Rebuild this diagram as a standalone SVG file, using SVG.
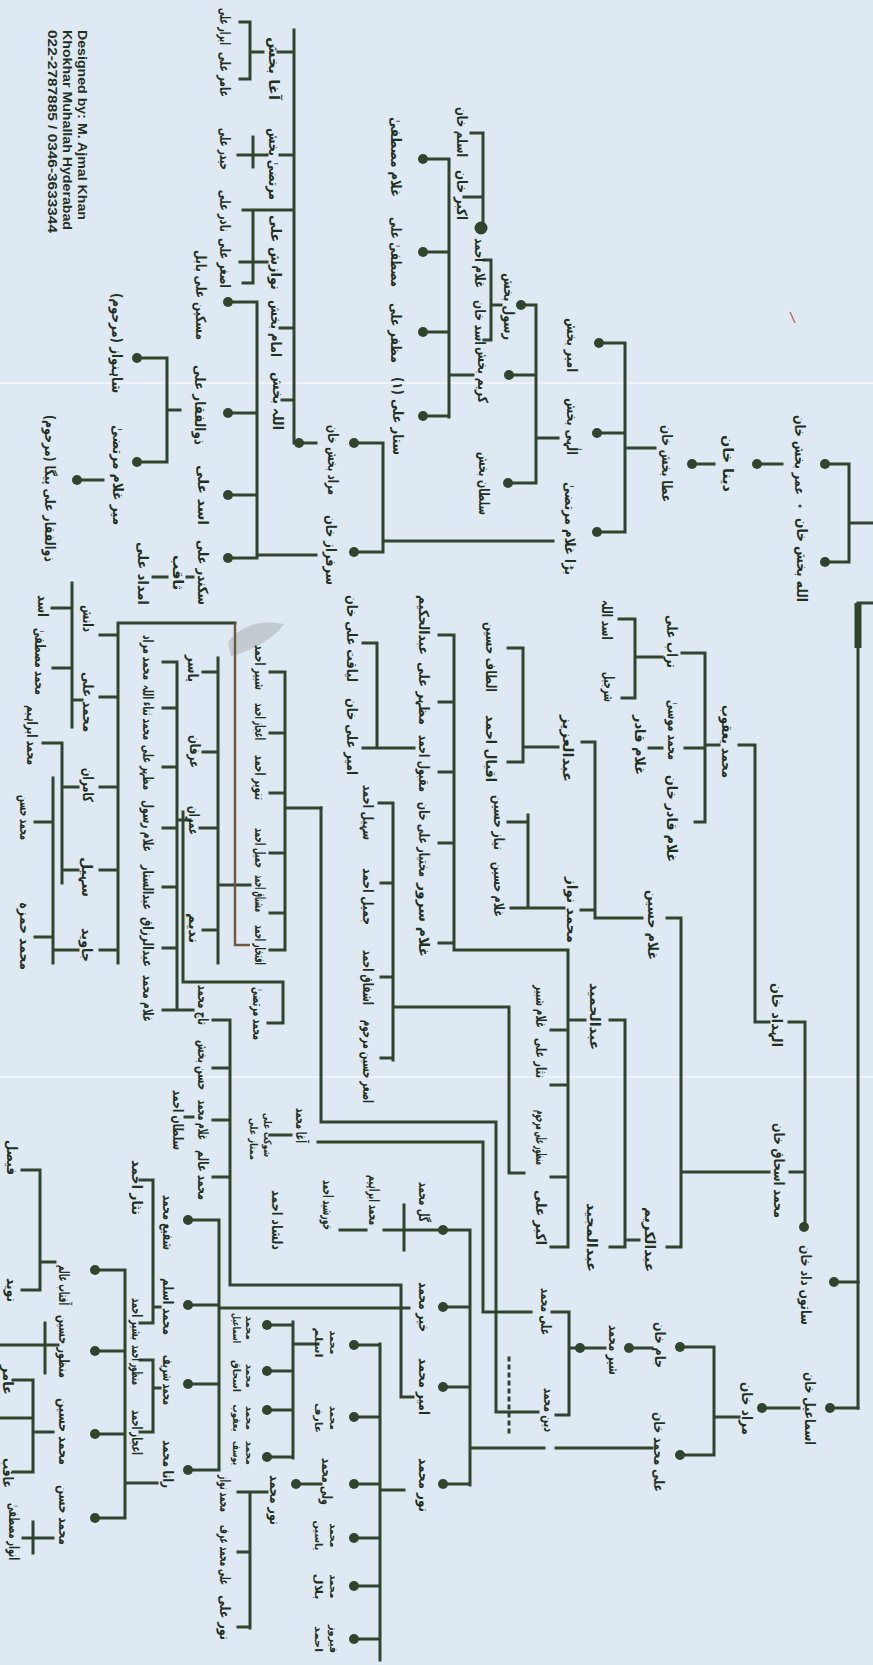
<svg xmlns="http://www.w3.org/2000/svg" width="873" height="1665" viewBox="0 0 873 1665">
<style>
.ln{stroke:#31452c;stroke-width:3;fill:none;stroke-linecap:square}
.br{stroke:#6e5a45;stroke-width:2.5;fill:none}
.dt{fill:#31452c}
.t{font-family:"DejaVu Sans","Noto Sans",sans-serif;font-size:14px;font-weight:bold;fill:#22301f;text-anchor:middle;dominant-baseline:central}
.s{font-size:10.5px}
.f{font-family:"Liberation Sans",Arial,sans-serif;font-size:12.5px;font-weight:bold;fill:#22301f;text-anchor:middle;dominant-baseline:central}
</style>
<rect width="873" height="1665" fill="#dfe9f4"/>
<rect y="382" width="873" height="2" fill="#f4f8fc" opacity="0.7"/>
<rect y="1076" width="873" height="2" fill="#f4f8fc" opacity="0.7"/>
<path d="M228,642 C240,626 262,619 284,624 C276,636 256,650 231,656 Z" fill="#b7bec2" opacity="0.7"/>
<path d="M790,312 L795,323" stroke="#d05050" stroke-width="1.2"/>

<g id="connectors">
<path class="ln" d="M858,603 V1408 M858,603 H873 M849,464 V562 M830,464 H849 M830,562 H849 M849,523 H873 M762,464 H782 M697,464 H714 M625,448 H655 M625,343 V532 M602,343 H625 M602,433 H625 M602,532 H625"/>
<path stroke="#31452c" stroke-width="7" d="M858,603 V648"/>
<path class="ln" d="M536,305 V483 M536,438 H558 M526,305 H536 M514,375 H536 M513,483 H536 M491,260 V340 M484,260 H491 M484,340 H491 M491,305 H501 M483,133 V226 M471,133 H483 M464,197 H483 M449,159 V417 M428,159 H449 M428,252 H449 M428,332 H449 M428,416 H449 M449,375 H473 M383,443 V552 M359,443 H383 M359,552 H383 M383,541 H553"/>
<path class="ln" d="M294,30 V443 M304,443 H316 M257,302 V555 H316 M233,302 H257 M233,413 H257 M233,495 H257 M233,558 H257 M278,52 H294 M250,52 H263 M250,22 V79 M240,22 H250 M240,79 H250 M280,155 H294 M253,137 V167 M238,155 H267 M243,210 H294 M253,210 V283 M240,262 H267 M243,283 H253 M280,328 H294 M282,400 H294 M167,358 V462 M143,358 H167 M143,462 H167 M167,410 H180 M82,480 H103 M153,577 H167 M187,577 H193"/>
<path class="ln" d="M72,583 V727 M52,608 H72 M53,668 H72 M72,700 H82 M118,623 V963 M118,623 H235 M100,635 H118 M100,697 H118 M100,787 H118 M100,870 H118 M100,950 H118 M62,743 V883 M43,743 H62 M62,787 H78 M62,870 H78 M53,778 V963 M35,822 H53 M35,937 H53 M53,950 H78 M218,658 V963 M203,672 H218 M203,752 H218 M200,828 H218 M203,930 H218 M218,885 H250"/>
<path class="br" d="M235,623 V945 H250"/>
<path class="ln" d="M177,662 V1010 H193 M163,662 H177 M163,708 H177 M163,767 H177 M163,828 H177 M163,887 H177 M163,948 H177 M163,1010 H177 M285,672 V950 M270,672 H285 M270,733 H285 M270,793 H285 M270,853 H285 M270,913 H285 M270,950 H285 M285,808 H321 M183,812 V982 H283 V1023 M178,820 H190 M268,1023 H283"/>
<path class="ln" d="M230,1020 V1285 H401 V1397 H413 M213,1020 H230 M213,1068 H230 M213,1120 H230 M213,1177 H230 M185,1117 H193 M193,1220 H219 M219,1220 V1470 M193,1305 H219 M193,1384 H219 M193,1470 H219 M219,1308 H409 M153,1180 V1323 M140,1180 H153 M140,1323 H153 M153,1307 H160 M153,1360 V1432 M140,1360 H153 M140,1432 H153 M153,1388 H160 M125,1270 V1518 M100,1270 H125 M100,1351 H125 M100,1434 H125 M100,1518 H125 M125,1483 H157"/>
<path class="ln" d="M40,1170 V1290 M22,1170 H40 M22,1290 H40 M40,1262 H55 M45,1323 V1373 M0,1345 H58 M33,1380 V1472 M13,1380 H33 M0,1418 H33 M13,1472 H33 M33,1432 H53 M33,1522 V1553 M23,1538 H53"/>
<path class="ln" d="M272,1325 H293 M272,1371 H293 M272,1410 H293 M272,1457 H293 M293,1322 V1458 M293,1344 H318 M301,1484 H321 M250,1492 V1628 M238,1492 H267 M238,1552 H250 M238,1627 H250 M380,1344 V1660 M359,1345 H380 M359,1417 H380 M359,1484 H380 M359,1538 H380 M359,1586 H380 M359,1639 H380 M380,1490 H404"/>
<path class="ln" d="M470,1230 V1485 M448,1230 H470 M448,1307 H470 M448,1387 H470 M448,1484 H470 M470,1448 H544 M556,1448 H652 M483,1142 V1312 H531 M318,1142 H483 M321,808 V1122 H496 V1412 H538 M569,1312 V1415 M552,1312 H569 M556,1415 H569 M569,1348 H576 M584,1348 H605 M635,1348 H652 M685,1347 H714 M714,1347 V1455 M685,1455 H714 M714,1417 H739 M767,1408 H799 M835,1408 H858 M839,1282 H858 M384,1230 H438 M404,1205 V1250 M340,1230 H366 M270,1135 H291"/>
<path class="ln" stroke-dasharray="2 6" d="M509,1358 V1438"/>
<path class="ln" d="M805,1022 V1224 M790,1172 H805 M789,1022 H805 M755,1022 H769 M755,745 V1022 M739,745 H755 M681,918 V1247 M667,918 H681 M667,1247 H681 M681,1172 H769 M625,1020 V1247 M610,1020 H625 M610,1247 H625 M625,1240 H639 M705,653 V822 M682,653 H705 M695,822 H705 M705,745 H719 M685,748 H705 M649,748 H662 M635,619 V698 M619,619 H635 M622,698 H635 M635,657 H662"/>
<path class="ln" d="M595,742 V918 M582,742 H595 M581,910 H595 M595,918 H642 M523,648 V762 M508,648 H523 M508,762 H523 M523,747 H558 M528,815 V908 M508,822 H528 M511,908 H564 M454,635 V950 H568 M439,635 H454 M439,702 H454 M439,772 H454 M439,843 H454 M439,943 H454 M568,950 V1247 M568,1020 H585 M551,1030 H568 M551,1085 H568 M551,1177 H568 M551,1247 H568 M377,643 V748 M363,643 H377 M363,748 H414 M393,803 V1060 M379,803 H393 M381,883 H393 M381,977 H393 M381,1058 H393 M393,1007 H509 V1173 H524"/>
</g>

<g id="footer">
<text class="f" transform="translate(82,125) rotate(90)" textLength="190" lengthAdjust="spacingAndGlyphs">Designed by: M. Ajmal Khan</text>
<text class="f" transform="translate(67,130) rotate(90)" textLength="200" lengthAdjust="spacingAndGlyphs">Khokhar Muhallah Hyderabad</text>
<text class="f" transform="translate(52,131.5) rotate(90)" textLength="203" lengthAdjust="spacingAndGlyphs">022-2787885 / 0346-3633344</text>
</g>

<g id="n-umar"><circle class="dt" cx="825" cy="464" r="5"/><text class="t" transform="translate(800,455) rotate(90)" textLength="80" lengthAdjust="spacingAndGlyphs">عمر بخش خان</text></g>
<g id="n-allah"><circle class="dt" cx="825" cy="562" r="5"/><circle class="dt" cx="800" cy="506" r="1.6"/><text class="t" transform="translate(802,560) rotate(90)" textLength="84" lengthAdjust="spacingAndGlyphs">الله بخش خان</text></g>
<g id="n-dina"><circle class="dt" cx="757" cy="464" r="5"/><text class="t" transform="translate(728,463.5) rotate(90)" textLength="57" lengthAdjust="spacingAndGlyphs">دینا خان</text></g>
<g id="n-ata"><circle class="dt" cx="692" cy="464" r="5"/><text class="t" transform="translate(667,463.5) rotate(90)" textLength="77" lengthAdjust="spacingAndGlyphs">عطا بخش خان</text></g>
<g id="n-amirb"><circle class="dt" cx="599" cy="343" r="5"/><text class="t" transform="translate(572,345) rotate(90)" textLength="54" lengthAdjust="spacingAndGlyphs">امیر بخش</text></g>
<g id="n-ilahi"><circle class="dt" cx="597" cy="433" r="5"/><text class="t" transform="translate(572,426.5) rotate(90)" textLength="57" lengthAdjust="spacingAndGlyphs">الٰہی بخش</text></g>
<g id="n-murtaza"><circle class="dt" cx="597" cy="532" r="5"/><text class="t" transform="translate(570,528.5) rotate(90)" textLength="93" lengthAdjust="spacingAndGlyphs">بڑا غلام مرتضیٰ</text></g>
<g id="n-rasul"><circle class="dt" cx="521" cy="305" r="5"/><text class="t" transform="translate(509,306.5) rotate(90)" textLength="67" lengthAdjust="spacingAndGlyphs">رسول بخش</text></g>
<g id="n-karim"><circle class="dt" cx="509" cy="375" r="5"/><text class="t" transform="translate(483,375) rotate(90)" textLength="56" lengthAdjust="spacingAndGlyphs">کریم بخش</text></g>
<g id="n-sultanb"><circle class="dt" cx="508" cy="483" r="5"/><text class="t" transform="translate(484,483.5) rotate(90)" textLength="63" lengthAdjust="spacingAndGlyphs">سلطان بخش</text></g>
<g id="n-ghulamahmad"><circle class="dt" cx="481" cy="228" r="6.5"/><text class="t" transform="translate(480,263) rotate(90)" textLength="50" lengthAdjust="spacingAndGlyphs">غلام احمد</text></g>
<g id="n-asadk"><text class="t" transform="translate(480,322.5) rotate(90)" textLength="45" lengthAdjust="spacingAndGlyphs">اسد خان</text></g>
<g id="n-aslamk"><text class="t" transform="translate(462,132) rotate(90)" textLength="50" lengthAdjust="spacingAndGlyphs">اسلم خان</text></g>
<g id="n-akbark"><text class="t" transform="translate(462,195) rotate(90)" textLength="50" lengthAdjust="spacingAndGlyphs">اکبر خان</text></g>
<g id="n-mustafag"><circle class="dt" cx="423" cy="159" r="5"/><text class="t" transform="translate(396,157) rotate(90)" textLength="80" lengthAdjust="spacingAndGlyphs">غلام مصطفیٰ</text></g>
<g id="n-mustafaa"><circle class="dt" cx="423" cy="252" r="5"/><text class="t" transform="translate(396,252) rotate(90)" textLength="70" lengthAdjust="spacingAndGlyphs">مصطفیٰ علی</text></g>
<g id="n-muzaffar"><circle class="dt" cx="423" cy="332" r="5"/><text class="t" transform="translate(396,333) rotate(90)" textLength="60" lengthAdjust="spacingAndGlyphs">مظفر علی</text></g>
<g id="n-sattar"><circle class="dt" cx="423" cy="416" r="5"/><text class="t" transform="translate(398,416) rotate(90)" textLength="78" lengthAdjust="spacingAndGlyphs">ستار علی (۱)</text></g>
<g id="n-muradb"><circle class="dt" cx="354" cy="443" r="5"/><circle class="dt" cx="299" cy="443" r="5"/><text class="t" transform="translate(333,460) rotate(90)" textLength="70" lengthAdjust="spacingAndGlyphs">مراد بخش خان</text></g>
<g id="n-sarfraz"><circle class="dt" cx="354" cy="552" r="5"/><text class="t" transform="translate(331,550) rotate(90)" textLength="70" lengthAdjust="spacingAndGlyphs">سرفراز خان</text></g>
<g id="n-aghab"><text class="t" transform="translate(274,68.5) rotate(90)" textLength="63" lengthAdjust="spacingAndGlyphs">آغا بخش</text></g>
<g id="n-murtazab"><text class="t" transform="translate(274,164) rotate(90)" textLength="72" lengthAdjust="spacingAndGlyphs">مرتضیٰ بخش</text></g>
<g id="n-nawazish"><text class="t" transform="translate(276,252.5) rotate(90)" textLength="75" lengthAdjust="spacingAndGlyphs">نوازش علی</text></g>
<g id="n-imam"><text class="t" transform="translate(276,328.5) rotate(90)" textLength="57" lengthAdjust="spacingAndGlyphs">امام بخش</text></g>
<g id="n-allahb2"><text class="t" transform="translate(278,401) rotate(90)" textLength="58" lengthAdjust="spacingAndGlyphs">اللہ بخش</text></g>
<g id="n-abrar"><text class="t" transform="translate(225,26.5) rotate(90)" textLength="37" lengthAdjust="spacingAndGlyphs">ابرار علی</text></g>
<g id="n-amirali"><text class="t" transform="translate(225,74.5) rotate(90)" textLength="45" lengthAdjust="spacingAndGlyphs">عامر علی</text></g>
<g id="n-haider"><text class="t" transform="translate(225,149) rotate(90)" textLength="42" lengthAdjust="spacingAndGlyphs">حیدر علی</text></g>
<g id="n-nadir"><text class="t" transform="translate(225,211) rotate(90)" textLength="42" lengthAdjust="spacingAndGlyphs">نادر علی</text></g>
<g id="n-asghara"><text class="t" transform="translate(225,263) rotate(90)" textLength="50" lengthAdjust="spacingAndGlyphs">اصغر علی</text></g>
<g id="n-miskeen"><circle class="dt" cx="228" cy="302" r="5"/><text class="t" transform="translate(201,295) rotate(90)" textLength="90" lengthAdjust="spacingAndGlyphs">مسکین علی بابل</text></g>
<g id="n-zulfiqar1"><circle class="dt" cx="228" cy="413" r="5"/><text class="t" transform="translate(200,405) rotate(90)" textLength="80" lengthAdjust="spacingAndGlyphs">ذوالفقار علی</text></g>
<g id="n-asadali"><circle class="dt" cx="228" cy="495" r="5"/><text class="t" transform="translate(203,495) rotate(90)" textLength="60" lengthAdjust="spacingAndGlyphs">اسد علی</text></g>
<g id="n-sikandar"><circle class="dt" cx="228" cy="558" r="5"/><text class="t" transform="translate(203,572.5) rotate(90)" textLength="65" lengthAdjust="spacingAndGlyphs">سکندر علی</text></g>
<g id="n-saqib"><text class="t" transform="translate(178,572.5) rotate(90)" textLength="35" lengthAdjust="spacingAndGlyphs">ثاقب</text></g>
<g id="n-imdad"><text class="t" transform="translate(143,573.5) rotate(90)" textLength="63" lengthAdjust="spacingAndGlyphs">امداد علی</text></g>
<g id="n-shahnawaz"><circle class="dt" cx="137" cy="358" r="5"/><text class="t" transform="translate(117,343) rotate(90)" textLength="100" lengthAdjust="spacingAndGlyphs">شاہنواز (مرحوم)</text></g>
<g id="n-mirgm"><circle class="dt" cx="137" cy="462" r="5"/><text class="t" transform="translate(118,475) rotate(90)" textLength="100" lengthAdjust="spacingAndGlyphs">میر غلام مرتضیٰ</text></g>
<g id="n-zulfiqar2"><circle class="dt" cx="77" cy="480" r="5"/><text class="t" transform="translate(50,488.5) rotate(90)" textLength="147" lengthAdjust="spacingAndGlyphs">ذوالفقار علی پیگا (مرحوم)</text></g>

<g id="n-danish"><text class="t" transform="translate(88,618.5) rotate(90)" textLength="27" lengthAdjust="spacingAndGlyphs">دانش</text></g>
<g id="n-mali"><text class="t" transform="translate(88,702) rotate(90)" textLength="60" lengthAdjust="spacingAndGlyphs">محمد علی</text></g>
<g id="n-kamran"><text class="t" transform="translate(88,785) rotate(90)" textLength="34" lengthAdjust="spacingAndGlyphs">کامران</text></g>
<g id="n-sohail"><text class="t" transform="translate(87,877) rotate(90)" textLength="40" lengthAdjust="spacingAndGlyphs">سہیل</text></g>
<g id="n-javed"><text class="t" transform="translate(87,945) rotate(90)" textLength="34" lengthAdjust="spacingAndGlyphs">جاوید</text></g>
<g id="n-asad2"><text class="t" transform="translate(43,606) rotate(90)" textLength="22" lengthAdjust="spacingAndGlyphs">اسد</text></g>
<g id="n-mmustafa"><text class="t" transform="translate(40,661.5) rotate(90)" textLength="67" lengthAdjust="spacingAndGlyphs">محمد مصطفیٰ</text></g>
<g id="n-mibrahim"><text class="t" transform="translate(32,735) rotate(90)" textLength="60" lengthAdjust="spacingAndGlyphs">محمد ابراہیم</text></g>
<g id="n-mhasan"><text class="t" transform="translate(25,817.5) rotate(90)" textLength="45" lengthAdjust="spacingAndGlyphs">محمد حسن</text></g>
<g id="n-mhamza"><text class="t" transform="translate(25,936) rotate(90)" textLength="68" lengthAdjust="spacingAndGlyphs">محمد حمزہ</text></g>
<g id="n-yasir"><text class="t" transform="translate(193,668.5) rotate(90)" textLength="27" lengthAdjust="spacingAndGlyphs">یاسر</text></g>
<g id="n-irfan"><text class="t" transform="translate(195,751.5) rotate(90)" textLength="33" lengthAdjust="spacingAndGlyphs">عرفان</text></g>
<g id="n-imran"><text class="t" transform="translate(194,820.5) rotate(90)" textLength="29" lengthAdjust="spacingAndGlyphs">عمران</text></g>
<g id="n-nadeem"><text class="t" transform="translate(194,928) rotate(90)" textLength="30" lengthAdjust="spacingAndGlyphs">ندیم</text></g>
<g id="n-mmurad"><text class="t" transform="translate(148,657.5) rotate(90)" textLength="45" lengthAdjust="spacingAndGlyphs">محمد مراد</text></g>
<g id="n-msana"><text class="t" transform="translate(148,712.5) rotate(90)" textLength="55" lengthAdjust="spacingAndGlyphs">محمد ثناء اللہ</text></g>
<g id="n-mazhar"><text class="t" transform="translate(148,767.5) rotate(90)" textLength="45" lengthAdjust="spacingAndGlyphs">مظہر علی</text></g>
<g id="n-grasul"><text class="t" transform="translate(148,826) rotate(90)" textLength="52" lengthAdjust="spacingAndGlyphs">غلام رسول</text></g>
<g id="n-asattar"><text class="t" transform="translate(148,887.5) rotate(90)" textLength="45" lengthAdjust="spacingAndGlyphs">عبدالستار</text></g>
<g id="n-arazzaq"><text class="t" transform="translate(148,942) rotate(90)" textLength="50" lengthAdjust="spacingAndGlyphs">عبدالرزاق</text></g>
<g id="n-gmuhammad"><text class="t" transform="translate(148,998.5) rotate(90)" textLength="47" lengthAdjust="spacingAndGlyphs">غلام محمد</text></g>
<g id="n-shabbir"><text class="t" transform="translate(260,667.5) rotate(90)" textLength="45" lengthAdjust="spacingAndGlyphs">شبیر احمد</text></g>
<g id="n-ijaz"><text class="t" transform="translate(260,721.5) rotate(90)" textLength="37" lengthAdjust="spacingAndGlyphs">اعجاز احمد</text></g>
<g id="n-tanveer"><text class="t" transform="translate(260,777.5) rotate(90)" textLength="45" lengthAdjust="spacingAndGlyphs">تنویر احمد</text></g>
<g id="n-jamil"><text class="t" transform="translate(260,848) rotate(90)" textLength="40" lengthAdjust="spacingAndGlyphs">جمیل احمد</text></g>
<g id="n-mushtaq"><text class="t" transform="translate(260,893.5) rotate(90)" textLength="37" lengthAdjust="spacingAndGlyphs">مشتاق احمد</text></g>
<g id="n-iftikhar"><text class="t" transform="translate(260,945) rotate(90)" textLength="40" lengthAdjust="spacingAndGlyphs">افتخار احمد</text></g>
<g id="n-mmurtaza"><text class="t" transform="translate(258,1013.5) rotate(90)" textLength="53" lengthAdjust="spacingAndGlyphs">محمد مرتضیٰ</text></g>
<g id="n-taj"><text class="t" transform="translate(203,1005) rotate(90)" textLength="40" lengthAdjust="spacingAndGlyphs">تاج محمد</text></g>
<g id="n-hasanb"><text class="t" transform="translate(203,1065) rotate(90)" textLength="50" lengthAdjust="spacingAndGlyphs">حسن بخش</text></g>
<g id="n-gmuh2"><text class="t" transform="translate(203,1120) rotate(90)" textLength="40" lengthAdjust="spacingAndGlyphs">غلام محمد</text></g>
<g id="n-malam"><text class="t" transform="translate(203,1175) rotate(90)" textLength="50" lengthAdjust="spacingAndGlyphs">محمد عالم</text></g>
<g id="n-sultanahmad"><text class="t" transform="translate(178,1120) rotate(90)" textLength="60" lengthAdjust="spacingAndGlyphs">سلطان احمد</text></g>
<g id="n-shaukat"><text class="t s" transform="translate(268,1135) rotate(90)" textLength="44" lengthAdjust="spacingAndGlyphs">شوکت علی</text></g>
<g id="n-mumtaz"><text class="t s" transform="translate(254,1139) rotate(90)" textLength="42" lengthAdjust="spacingAndGlyphs">ممتاز علی</text></g>

<g id="n-shafi"><circle class="dt" cx="188" cy="1220" r="5"/><text class="t" transform="translate(168,1222.5) rotate(90)" textLength="55" lengthAdjust="spacingAndGlyphs">شفیع محمد</text></g>
<g id="n-maslam"><circle class="dt" cx="188" cy="1305" r="5"/><text class="t" transform="translate(168,1306.5) rotate(90)" textLength="57" lengthAdjust="spacingAndGlyphs">محمد اسلم</text></g>
<g id="n-msharif"><circle class="dt" cx="188" cy="1384" r="5"/><text class="t" transform="translate(168,1380) rotate(90)" textLength="50" lengthAdjust="spacingAndGlyphs">محمد شریف</text></g>
<g id="n-rana"><circle class="dt" cx="188" cy="1470" r="5"/><text class="t" transform="translate(168,1464) rotate(90)" textLength="48" lengthAdjust="spacingAndGlyphs">رانا محمد</text></g>
<g id="n-aftab"><circle class="dt" cx="95" cy="1270" r="5"/><text class="t" transform="translate(64,1285) rotate(90)" textLength="40" lengthAdjust="spacingAndGlyphs">آفتاب عالم</text></g>
<g id="n-manzoorh"><circle class="dt" cx="95" cy="1351" r="5"/><text class="t" transform="translate(64,1346.5) rotate(90)" textLength="63" lengthAdjust="spacingAndGlyphs">منظور حسین</text></g>
<g id="n-mhusain"><circle class="dt" cx="95" cy="1434" r="5"/><text class="t" transform="translate(64,1431.5) rotate(90)" textLength="67" lengthAdjust="spacingAndGlyphs">محمد حسین</text></g>
<g id="n-mhasan2"><circle class="dt" cx="95" cy="1518" r="5"/><text class="t" transform="translate(64,1515) rotate(90)" textLength="60" lengthAdjust="spacingAndGlyphs">محمد حسن</text></g>
<g id="n-faisal"><text class="t" transform="translate(12,1157.5) rotate(90)" textLength="35" lengthAdjust="spacingAndGlyphs">فیصل</text></g>
<g id="n-naveed"><text class="t" transform="translate(12,1290) rotate(90)" textLength="24" lengthAdjust="spacingAndGlyphs">نوید</text></g>
<g id="n-amir2"><text class="t" transform="translate(8,1380) rotate(90)" textLength="30" lengthAdjust="spacingAndGlyphs">عامر</text></g>
<g id="n-aqib"><text class="t" transform="translate(8,1473) rotate(90)" textLength="30" lengthAdjust="spacingAndGlyphs">عاقب</text></g>
<g id="n-anwar"><text class="t" transform="translate(14,1531.5) rotate(90)" textLength="57" lengthAdjust="spacingAndGlyphs">انوار مصطفیٰ</text></g>
<g id="n-nisara"><text class="t" transform="translate(137,1187.5) rotate(90)" textLength="55" lengthAdjust="spacingAndGlyphs">نثار احمد</text></g>
<g id="n-bashir"><text class="t" transform="translate(137,1319) rotate(90)" textLength="42" lengthAdjust="spacingAndGlyphs">بشیر احمد</text></g>
<g id="n-manzoora"><text class="t" transform="translate(137,1365) rotate(90)" textLength="40" lengthAdjust="spacingAndGlyphs">منظور احمد</text></g>
<g id="n-ijaza"><text class="t" transform="translate(137,1432.5) rotate(90)" textLength="45" lengthAdjust="spacingAndGlyphs">اعجاز احمد</text></g>
<g id="n-ismail2"><circle class="dt" cx="267" cy="1325" r="5"/><text class="t s" transform="translate(250,1328) rotate(90)" textLength="24" lengthAdjust="spacingAndGlyphs">محمد</text><text class="t s" transform="translate(237,1328) rotate(90)" textLength="30" lengthAdjust="spacingAndGlyphs">اسماعیل</text></g>
<g id="n-ishaq2"><circle class="dt" cx="267" cy="1371" r="5"/><text class="t s" transform="translate(250,1376) rotate(90)" textLength="24" lengthAdjust="spacingAndGlyphs">محمد</text><text class="t s" transform="translate(237,1376) rotate(90)" textLength="32" lengthAdjust="spacingAndGlyphs">اسحاق</text></g>
<g id="n-yaqub2"><circle class="dt" cx="267" cy="1410" r="5"/><text class="t s" transform="translate(250,1418) rotate(90)" textLength="24" lengthAdjust="spacingAndGlyphs">محمد</text><text class="t s" transform="translate(237,1418) rotate(90)" textLength="27" lengthAdjust="spacingAndGlyphs">یعقوب</text></g>
<g id="n-yusuf2"><circle class="dt" cx="267" cy="1457" r="5"/><text class="t s" transform="translate(250,1453) rotate(90)" textLength="24" lengthAdjust="spacingAndGlyphs">محمد</text><text class="t s" transform="translate(237,1453) rotate(90)" textLength="24" lengthAdjust="spacingAndGlyphs">یوسف</text></g>
<g id="n-noorm2"><circle class="dt" cx="296" cy="1484" r="5"/><text class="t" transform="translate(275,1500) rotate(90)" textLength="50" lengthAdjust="spacingAndGlyphs">نور محمد</text></g>
<g id="n-mnawaz2"><text class="t" transform="translate(225,1493.5) rotate(90)" textLength="37" lengthAdjust="spacingAndGlyphs">محمد نواز</text></g>
<g id="n-alimurf"><text class="t" transform="translate(225,1555) rotate(90)" textLength="60" lengthAdjust="spacingAndGlyphs">علی محمد عرف</text></g>
<g id="n-noorali"><text class="t" transform="translate(225,1617.5) rotate(90)" textLength="45" lengthAdjust="spacingAndGlyphs">نور علی</text></g>
<g id="n-aslam3"><circle class="dt" cx="354" cy="1345" r="5"/><text class="t s" transform="translate(334,1342.5) rotate(90)" textLength="24" lengthAdjust="spacingAndGlyphs">محمد</text><text class="t s" transform="translate(319,1342.5) rotate(90)" textLength="30" lengthAdjust="spacingAndGlyphs">اسلم</text></g>
<g id="n-arif"><circle class="dt" cx="354" cy="1417" r="5"/><text class="t s" transform="translate(334,1418) rotate(90)" textLength="24" lengthAdjust="spacingAndGlyphs">محمد</text><text class="t s" transform="translate(319,1418) rotate(90)" textLength="30" lengthAdjust="spacingAndGlyphs">عارف</text></g>
<g id="n-walim"><circle class="dt" cx="354" cy="1484" r="5"/><text class="t" transform="translate(327,1481.5) rotate(90)" textLength="47" lengthAdjust="spacingAndGlyphs">ولی محمد</text></g>
<g id="n-yasin"><circle class="dt" cx="354" cy="1538" r="5"/><text class="t s" transform="translate(334,1535.5) rotate(90)" textLength="24" lengthAdjust="spacingAndGlyphs">محمد</text><text class="t s" transform="translate(319,1535.5) rotate(90)" textLength="30" lengthAdjust="spacingAndGlyphs">یاسین</text></g>
<g id="n-bilal"><circle class="dt" cx="354" cy="1586" r="5"/><text class="t s" transform="translate(334,1586.5) rotate(90)" textLength="24" lengthAdjust="spacingAndGlyphs">محمد</text><text class="t s" transform="translate(319,1586.5) rotate(90)" textLength="26" lengthAdjust="spacingAndGlyphs">بلال</text></g>
<g id="n-feroz"><circle class="dt" cx="354" cy="1639" r="5"/><text class="t s" transform="translate(334,1639) rotate(90)" textLength="28" lengthAdjust="spacingAndGlyphs">فیروز</text><text class="t s" transform="translate(319,1639) rotate(90)" textLength="26" lengthAdjust="spacingAndGlyphs">احمد</text></g>
<g id="n-gul"><circle class="dt" cx="443" cy="1230" r="5"/><text class="t" transform="translate(424,1202) rotate(90)" textLength="40" lengthAdjust="spacingAndGlyphs">گل محمد</text></g>
<g id="n-khair"><circle class="dt" cx="443" cy="1307" r="5"/><text class="t" transform="translate(424,1307) rotate(90)" textLength="50" lengthAdjust="spacingAndGlyphs">خیر محمد</text></g>
<g id="n-amirm"><circle class="dt" cx="443" cy="1387" r="5"/><text class="t" transform="translate(424,1386.5) rotate(90)" textLength="57" lengthAdjust="spacingAndGlyphs">امیر محمد</text></g>
<g id="n-noorm"><circle class="dt" cx="443" cy="1484" r="5"/><text class="t" transform="translate(424,1485) rotate(90)" textLength="54" lengthAdjust="spacingAndGlyphs">نور محمد</text></g>
<g id="n-aghamuhammad"><text class="t" transform="translate(301,1125.5) rotate(90)" textLength="35" lengthAdjust="spacingAndGlyphs">آغا محمد</text></g>
<g id="n-khurshid"><text class="t" transform="translate(328,1205) rotate(90)" textLength="50" lengthAdjust="spacingAndGlyphs">خورشید احمد</text></g>
<g id="n-mibrahim2"><text class="t" transform="translate(374,1200) rotate(90)" textLength="50" lengthAdjust="spacingAndGlyphs">محمد ابراہیم</text></g>
<g id="n-dilshad"><text class="t" transform="translate(277,1220) rotate(90)" textLength="60" lengthAdjust="spacingAndGlyphs">دلشاد احمد</text></g>
<g id="n-alim"><text class="t" transform="translate(546,1311.5) rotate(90)" textLength="47" lengthAdjust="spacingAndGlyphs">علی محمد</text></g>
<g id="n-deenm"><text class="t" transform="translate(549,1410) rotate(90)" textLength="44" lengthAdjust="spacingAndGlyphs">دین محمد</text></g>
<g id="n-sherm"><circle class="dt" cx="580" cy="1348" r="5"/><circle class="dt" cx="629" cy="1348" r="5"/><text class="t" transform="translate(614,1350) rotate(90)" textLength="50" lengthAdjust="spacingAndGlyphs">شیر محمد</text></g>
<g id="n-jam"><circle class="dt" cx="680" cy="1347" r="5"/><text class="t" transform="translate(660,1345) rotate(90)" textLength="46" lengthAdjust="spacingAndGlyphs">جام خان</text></g>
<g id="n-alimk"><circle class="dt" cx="680" cy="1455" r="5"/><text class="t" transform="translate(659,1452) rotate(90)" textLength="80" lengthAdjust="spacingAndGlyphs">علی محمد خان</text></g>
<g id="n-muradk"><circle class="dt" cx="762" cy="1408" r="5"/><text class="t" transform="translate(747,1408.5) rotate(90)" textLength="53" lengthAdjust="spacingAndGlyphs">مراد خان</text></g>
<g id="n-ismail"><circle class="dt" cx="830" cy="1408" r="5"/><text class="t" transform="translate(810,1408.5) rotate(90)" textLength="73" lengthAdjust="spacingAndGlyphs">اسماعیل خان</text></g>
<g id="n-satun"><circle class="dt" cx="834" cy="1282" r="5"/><circle class="dt" cx="804" cy="1227" r="5"/><text class="t" transform="translate(806,1285) rotate(90)" textLength="80" lengthAdjust="spacingAndGlyphs">ساتوں داد خان</text></g>
<g id="n-ishaq"><text class="t" transform="translate(779,1170.5) rotate(90)" textLength="95" lengthAdjust="spacingAndGlyphs">محمد اسحاق خان</text></g>
<g id="n-ilahdad"><text class="t" transform="translate(777,1015) rotate(90)" textLength="64" lengthAdjust="spacingAndGlyphs">الہداد خان</text></g>
<g id="n-yaqub"><text class="t" transform="translate(727,741.5) rotate(90)" textLength="73" lengthAdjust="spacingAndGlyphs">محمد یعقوب</text></g>
<g id="n-turab"><text class="t" transform="translate(672,641.5) rotate(90)" textLength="53" lengthAdjust="spacingAndGlyphs">تراب علی</text></g>
<g id="n-musa"><text class="t" transform="translate(673,730) rotate(90)" textLength="60" lengthAdjust="spacingAndGlyphs">محمد موسیٰ</text></g>
<g id="n-gqkhan"><text class="t" transform="translate(672,818.5) rotate(90)" textLength="87" lengthAdjust="spacingAndGlyphs">غلام قادر خان</text></g>
<g id="n-gq"><text class="t" transform="translate(640,745) rotate(90)" textLength="60" lengthAdjust="spacingAndGlyphs">غلام قادر</text></g>
<g id="n-asadullah"><text class="t" transform="translate(607,620) rotate(90)" textLength="40" lengthAdjust="spacingAndGlyphs">اسد اللہ</text></g>
<g id="n-sharjeel"><text class="t" transform="translate(609,687) rotate(90)" textLength="30" lengthAdjust="spacingAndGlyphs">شرجیل</text></g>
<g id="n-ghusain"><text class="t" transform="translate(653,925) rotate(90)" textLength="70" lengthAdjust="spacingAndGlyphs">غلام حسین</text></g>
<g id="n-akarim"><text class="t" transform="translate(650,1239.5) rotate(90)" textLength="65" lengthAdjust="spacingAndGlyphs">عبدالکریم</text></g>
<g id="n-ahameed"><text class="t" transform="translate(595,1016.5) rotate(90)" textLength="67" lengthAdjust="spacingAndGlyphs">عبدالحمید</text></g>
<g id="n-amajeed"><text class="t" transform="translate(592,1237.5) rotate(90)" textLength="69" lengthAdjust="spacingAndGlyphs">عبدالمجید</text></g>
<g id="n-aaziz"><text class="t" transform="translate(568,748.5) rotate(90)" textLength="67" lengthAdjust="spacingAndGlyphs">عبدالعزیز</text></g>
<g id="n-mnawaz"><text class="t" transform="translate(572,910) rotate(90)" textLength="66" lengthAdjust="spacingAndGlyphs">محمد نواز</text></g>
<g id="n-altaf"><text class="t" transform="translate(491,657) rotate(90)" textLength="70" lengthAdjust="spacingAndGlyphs">الطاف حسین</text></g>
<g id="n-iqbal"><text class="t" transform="translate(491,748.5) rotate(90)" textLength="67" lengthAdjust="spacingAndGlyphs">اقبال احمد</text></g>
<g id="n-niaz"><text class="t" transform="translate(499,822.5) rotate(90)" textLength="55" lengthAdjust="spacingAndGlyphs">نیاز حسین</text></g>
<g id="n-ghusain2"><text class="t" transform="translate(499,889.5) rotate(90)" textLength="55" lengthAdjust="spacingAndGlyphs">غلام حسین</text></g>
<g id="n-ahakeem"><text class="t" transform="translate(424,625) rotate(90)" textLength="60" lengthAdjust="spacingAndGlyphs">عبدالحکیم</text></g>
<g id="n-mazhar2"><text class="t" transform="translate(424,693.5) rotate(90)" textLength="63" lengthAdjust="spacingAndGlyphs">مظہر علی</text></g>
<g id="n-maqbool"><text class="t" transform="translate(424,763.5) rotate(90)" textLength="57" lengthAdjust="spacingAndGlyphs">مقبول احمد</text></g>
<g id="n-mukhtiar"><text class="t" transform="translate(424,839.5) rotate(90)" textLength="75" lengthAdjust="spacingAndGlyphs">مختیار علی خان</text></g>
<g id="n-gsarwar"><text class="t" transform="translate(424,920) rotate(90)" textLength="74" lengthAdjust="spacingAndGlyphs">غلام سرور</text></g>
<g id="n-liaqat"><text class="t" transform="translate(352,638.5) rotate(90)" textLength="87" lengthAdjust="spacingAndGlyphs">لیاقت علی خان</text></g>
<g id="n-amirak"><text class="t" transform="translate(352,736.5) rotate(90)" textLength="77" lengthAdjust="spacingAndGlyphs">امیر علی خان</text></g>
<g id="n-sohaila"><text class="t" transform="translate(368,812.5) rotate(90)" textLength="55" lengthAdjust="spacingAndGlyphs">سہیل احمد</text></g>
<g id="n-jamil2"><text class="t" transform="translate(368,896.5) rotate(90)" textLength="57" lengthAdjust="spacingAndGlyphs">جمیل احمد</text></g>
<g id="n-ashfaq"><text class="t" transform="translate(368,977.5) rotate(90)" textLength="55" lengthAdjust="spacingAndGlyphs">اشفاق احمد</text></g>
<g id="n-asgharh"><text class="t" transform="translate(368,1061.5) rotate(90)" textLength="83" lengthAdjust="spacingAndGlyphs">اصغر حسین مرحوم</text></g>
<g id="n-gshabbir"><text class="t" transform="translate(541,1006.5) rotate(90)" textLength="43" lengthAdjust="spacingAndGlyphs">غلام شبیر</text></g>
<g id="n-nisarali"><text class="t" transform="translate(541,1058) rotate(90)" textLength="40" lengthAdjust="spacingAndGlyphs">نثار علی</text></g>
<g id="n-manzoorm"><text class="t" transform="translate(541,1137.5) rotate(90)" textLength="55" lengthAdjust="spacingAndGlyphs">منظور علی مرحوم</text></g>
<g id="n-akbarali"><text class="t" transform="translate(541,1217.5) rotate(90)" textLength="55" lengthAdjust="spacingAndGlyphs">اکبر علی</text></g>
</svg>
